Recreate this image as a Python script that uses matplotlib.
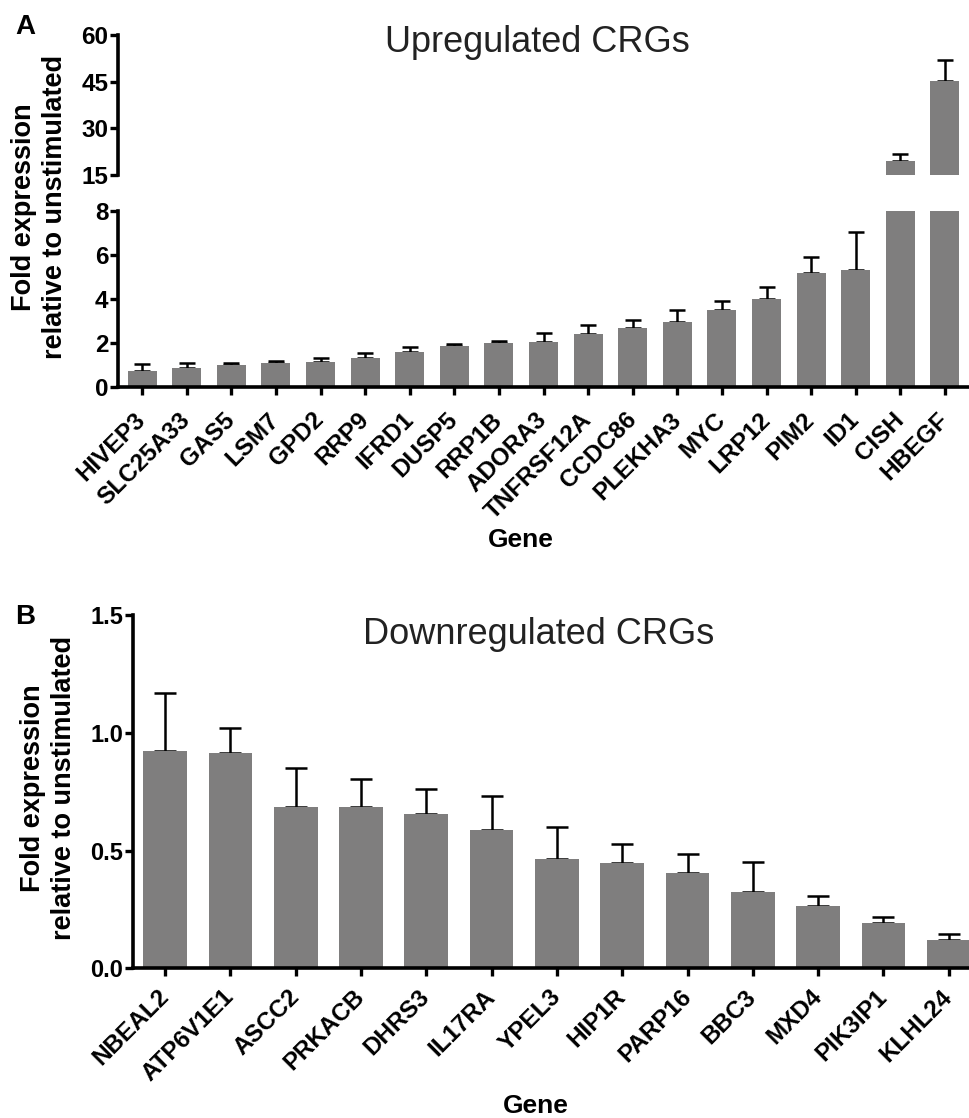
import matplotlib
matplotlib.use("Agg")
import matplotlib.pyplot as plt
import numpy as np

plt.rcParams['font.family'] = ['Liberation Sans', 'DejaVu Sans']

# ---- Data ----
up_genes = ["HIVEP3", "SLC25A33", "GAS5", "LSM7", "GPD2", "RRP9", "IFRD1", "DUSP5",
            "RRP1B", "ADORA3", "TNFRSF12A", "CCDC86", "PLEKHA3", "MYC", "LRP12",
            "PIM2", "ID1", "CISH", "HBEGF"]
up_values = [0.74, 0.85, 1.0, 1.08, 1.15, 1.3, 1.58, 1.86, 1.99, 2.06, 2.41, 2.67,
             2.97, 3.5, 3.99, 5.2, 5.32, 19.5, 45.2]
up_err = [0.29, 0.23, 0.10, 0.12, 0.15, 0.26, 0.25, 0.09, 0.11, 0.38, 0.41, 0.38,
          0.53, 0.42, 0.57, 0.72, 1.71, 2.2, 6.7]

down_genes = ["NBEAL2", "ATP6V1E1", "ASCC2", "PRKACB", "DHRS3", "IL17RA", "YPEL3",
              "HIP1R", "PARP16", "BBC3", "MXD4", "PIK3IP1", "KLHL24"]
down_values = [0.924, 0.913, 0.683, 0.683, 0.654, 0.587, 0.463, 0.446, 0.406,
               0.324, 0.264, 0.191, 0.12]
down_err = [0.246, 0.107, 0.166, 0.120, 0.107, 0.144, 0.135, 0.080, 0.078,
            0.128, 0.043, 0.025, 0.024]

up_upper_ticks = [15, 30, 45, 60]
up_lower_ticks = [0, 2, 4, 6, 8]
down_ticks = [0.0, 0.5, 1.0, 1.5]
down_ticklabels = ["0.0", "0.5", "1.0", "1.5"]

BAR = '#7f7e7e'

fig = plt.figure(figsize=(9.69, 11.18), dpi=100)

def style_axis(ax, bottom=True, ysize=17.5):
    for s in ['top', 'right']:
        ax.spines[s].set_visible(False)
    ax.spines['left'].set_linewidth(2.6)
    ax.spines['bottom'].set_linewidth(2.6)
    if not bottom:
        ax.spines['bottom'].set_visible(False)
        ax.tick_params(axis='x', bottom=False, labelbottom=False)
    ax.tick_params(axis='y', direction='out', length=6, width=2.4, pad=1,
                   labelsize=ysize)
    ax.tick_params(axis='x', direction='out', length=6, width=2.4)
    for lab in ax.get_yticklabels():
        lab.set_fontweight('bold')

# ---- Panel A ----
x_up = np.arange(len(up_genes))
ax_hi = fig.add_axes([0.1218, 0.8435, 0.8782, 0.1252])
ax_lo = fig.add_axes([0.1218, 0.6538, 0.8782, 0.1574])

for ax in (ax_hi, ax_lo):
    ax.bar(x_up, up_values, width=0.65, color=BAR, zorder=2)
    ax.errorbar(x_up, up_values, yerr=[np.zeros(len(up_err)), up_err], fmt='none',
                ecolor='black', elinewidth=1.8, capsize=5.5, capthick=1.8, zorder=1)
    ax.set_xlim(-0.54, 18.54)

ax_hi.set_ylim(15, 60)
ax_hi.set_yticks(up_upper_ticks)
ax_lo.set_ylim(0, 8)
ax_lo.set_yticks(up_lower_ticks)
ax_lo.set_xticks(x_up)
ax_lo.set_xticklabels(up_genes, rotation=45, ha='right', va='center',
                      rotation_mode='anchor', fontweight='bold', fontsize=17.5)
style_axis(ax_hi, bottom=False)
style_axis(ax_lo)
ax_lo.tick_params(axis='x', pad=15)

fig.text(537 / 969, 1 - 42 / 1118, "Upregulated CRGs", ha='center', va='center',
         fontsize=26, color='#222222')
fig.text(521 / 969, 1 - 540 / 1118, "Gene", ha='center', va='center',
         fontsize=19, fontweight='bold')
fig.text(40 / 969, 1 - 207 / 1118, "Fold expression\nrelative to unstimulated",
         ha='center', va='center', rotation=90, fontsize=19.5, fontweight='bold',
         linespacing=1.25)
fig.text(25 / 969, 1 - 27 / 1118, "A", ha='center', va='center', fontsize=20,
         fontweight='bold')

# ---- Panel B ----
x_dn = np.arange(len(down_genes))
ax_b = fig.add_axes([0.137, 0.1339, 0.863, 0.316])
ax_b.bar(x_dn, down_values, width=0.67, color=BAR, zorder=2)
ax_b.errorbar(x_dn, down_values, yerr=[np.zeros(len(down_err)), down_err], fmt='none',
              ecolor='black', elinewidth=1.8, capsize=8, capthick=1.8, zorder=1)
ax_b.set_xlim(-0.495, 12.31)
ax_b.set_ylim(0, 1.5)
ax_b.set_yticks(down_ticks)
ax_b.set_yticklabels(down_ticklabels)
ax_b.set_xticks(x_dn)
ax_b.set_xticklabels(down_genes, rotation=45, ha='right', va='center',
                     rotation_mode='anchor', fontweight='bold', fontsize=17.5)
style_axis(ax_b, ysize=17)
ax_b.tick_params(axis='x', pad=12)

fig.text(539 / 969, 1 - 635 / 1118, "Downregulated CRGs", ha='center', va='center',
         fontsize=26, color='#222222')
fig.text(536 / 969, 1 - 1106 / 1118, "Gene", ha='center', va='center',
         fontsize=19, fontweight='bold')
fig.text(49 / 969, 1 - 788 / 1118, "Fold expression\nrelative to unstimulated",
         ha='center', va='center', rotation=90, fontsize=19.5, fontweight='bold',
         linespacing=1.25)
fig.text(25 / 969, 1 - 617 / 1118, "B", ha='center', va='center', fontsize=20,
         fontweight='bold')

fig.savefig("out.png", dpi=100)
